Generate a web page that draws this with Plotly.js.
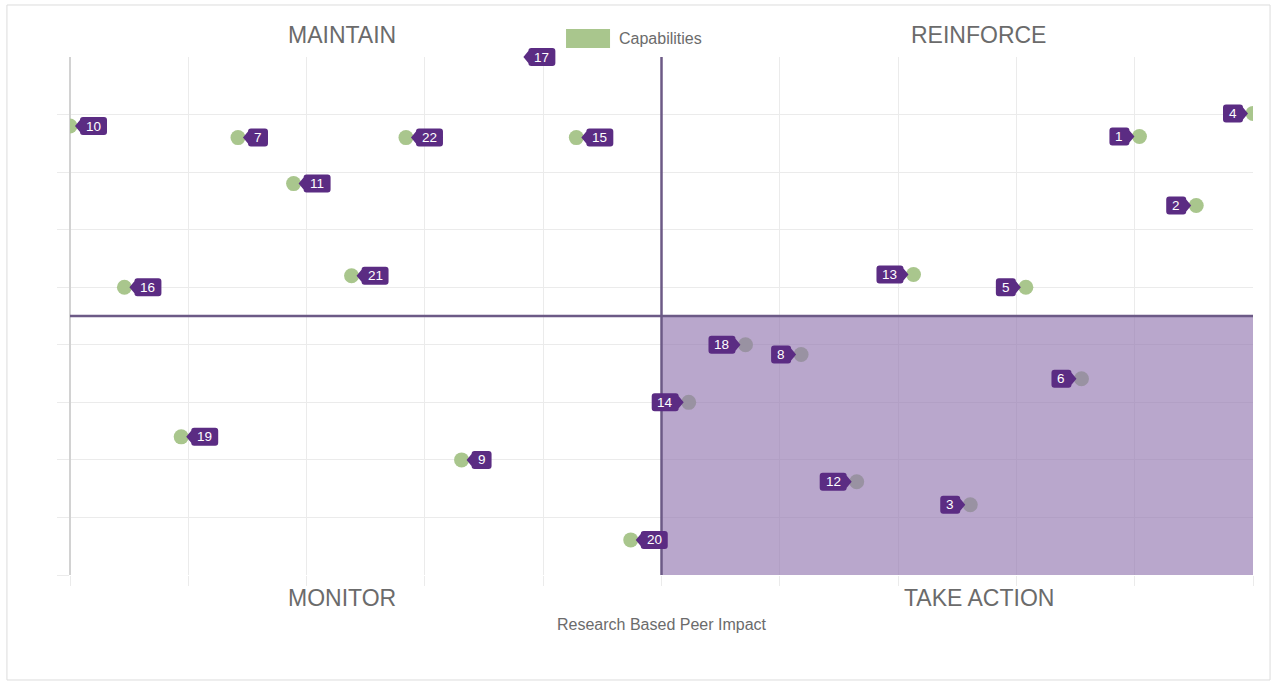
<!DOCTYPE html>
<html>
<head>
<meta charset="utf-8">
<script src="https://cdn.plot.ly/plotly-3.0.1.min.js"></script>
<style>
  html, body { margin: 0; padding: 0; background: #ffffff; }
  #chart { width: 1277px; height: 683px; }
</style>
</head>
<body>
<div id="chart"></div>
<script>
// ---- data ----
const pointLabels = ['1','2','3','4','5','6','7','8','9','10','11','12','13','14','15','16','17','18','19','20','21','22'];
const xValues = [9.04, 9.52, 7.61, 10.0, 8.08, 8.55, 1.42, 6.18, 3.31, 0.0, 1.89, 6.65, 7.13, 5.23, 4.28, 0.46, 3.79, 5.71, 0.94, 4.74, 2.38, 2.84];
const yValues = [7.62, 6.42, 1.22, 8.02, 5.0, 3.41, 7.6, 3.83, 2.0, 7.8, 6.8, 1.62, 5.22, 3.0, 7.6, 5.0, 9.4, 4.0, 2.4, 0.61, 5.2, 7.6];
const quadrantNames = ['MAINTAIN', 'REINFORCE', 'MONITOR', 'TAKE ACTION'];
const seriesName = 'Capabilities';
const xAxisTitle = 'Research Based Peer Impact';
const yTickValues = [0, 1, 2, 3, 4, 5, 6, 7, 8];

// ---- settings ----
const X_RANGE = [0, 10];
const Y_RANGE = [0, 9];
const X_SPLIT = 5;
const Y_SPLIT = 4.5;
const GREEN = '#a9c68d';
const TAG = '#5b2c83';
const DIVIDER = '#6c5a86';
const SHADE = 'rgba(144,115,174,0.63)';
const GRID = '#ebebeb';
const TEXT = '#6b6b6b';
const FONT = 'Liberation Sans, Arial, Helvetica, sans-serif';

const shapes = [];
const annotations = [];

// outer frame
shapes.push({type:'rect', xref:'paper', yref:'paper', x0:-0.0533, x1:1.0144, y0:-0.2027, y1:1.1004,
  line:{color:'#dcdcdc', width:1}, fillcolor:'rgba(0,0,0,0)', layer:'below'});

// shaded TAKE ACTION quadrant (above markers, below tags)
shapes.push({type:'rect', xref:'x', yref:'y', x0:X_SPLIT, x1:X_RANGE[1], y0:Y_RANGE[0], y1:Y_SPLIT,
  fillcolor:SHADE, line:{width:0}, layer:'above'});

// quadrant dividers
shapes.push({type:'line', xref:'x', yref:'y', x0:X_RANGE[0], x1:X_RANGE[1], y0:Y_SPLIT, y1:Y_SPLIT,
  line:{color:DIVIDER, width:2.5}, layer:'above'});
shapes.push({type:'line', xref:'x', yref:'y', x0:X_SPLIT, x1:X_SPLIT, y0:Y_RANGE[0], y1:Y_RANGE[1],
  line:{color:DIVIDER, width:2.5}, layer:'above'});

// tag callouts
function tagPath(w, dir) {
  const t = 5, b = 10, h = 9, a = 6, r = 3;
  const x0 = b * dir, x1 = (b + w) * dir;
  return `M ${t*dir},0 L ${x0},${-a} L ${x0},${-(h-r)} Q ${x0},${-h} ${x0+r*dir},${-h} ` +
         `L ${x1-r*dir},${-h} Q ${x1},${-h} ${x1},${-(h-r)} L ${x1},${h-r} Q ${x1},${h} ${x1-r*dir},${h} ` +
         `L ${x0+r*dir},${h} Q ${x0},${h} ${x0},${h-r} L ${x0},${a} Z`;
}
pointLabels.forEach((lab, i) => {
  const x = xValues[i], y = yValues[i];
  const dir = x < X_SPLIT ? 1 : -1;
  const w = lab.length > 1 ? 27 : 20;
  const clamped = y > Y_RANGE[1];
  shapes.push({
    type:'path', xref:'x', yref: clamped ? 'paper' : 'y',
    xsizemode:'pixel', ysizemode:'pixel',
    xanchor:x, yanchor: clamped ? 1 : y,
    path: tagPath(w, dir), fillcolor:TAG, line:{width:0}, layer:'above'
  });
  annotations.push({
    x:x, y: Math.min(y, Y_RANGE[1]), xref:'x', yref:'y', text:lab, showarrow:false,
    xanchor:'center', yanchor:'middle', xshift: dir * (10 + w / 2), yshift: 0,
    font:{family:FONT, size:13.5, color:'#ffffff'}
  });
});

// quadrant labels
const qPos = [[0.23, 1.0425], [0.768, 1.0425], [0.23, -0.0444], [0.768, -0.0444]];
quadrantNames.forEach((q, i) => {
  annotations.push({xref:'paper', yref:'paper', x:qPos[i][0], y:qPos[i][1], text:q, showarrow:false,
    xanchor:'center', yanchor:'middle', font:{family:FONT, size:23, color:TEXT}});
});

// legend (box + text)
shapes.push({type:'rect', xref:'paper', yref:'paper', x0:0.4193, x1:0.4565, y0:1.0174, y1:1.054,
  fillcolor:GREEN, line:{width:0}});
annotations.push({xref:'paper', yref:'paper', x:0.4624, y:1.0357, text:seriesName, showarrow:false,
  xanchor:'left', yanchor:'middle', font:{family:FONT, size:16, color:TEXT}});

const trace = {
  type:'scatter', mode:'markers', name:seriesName,
  x:xValues, y:yValues, text:pointLabels,
  marker:{size:15, color:GREEN},
  cliponaxis:true, showlegend:false,
  hovertemplate:'%{text}: (%{x}, %{y})<extra></extra>'
};

const layout = {
  width:1277, height:683,
  margin:{l:70, r:24, t:57, b:108},
  paper_bgcolor:'#ffffff', plot_bgcolor:'#ffffff',
  font:{family:FONT, color:TEXT},
  showlegend:false,
  xaxis:{
    range:X_RANGE, dtick:1, tick0:0, showticklabels:false,
    ticks:'outside', ticklen:10, tickcolor:GRID, tickwidth:1,
    showgrid:true, gridcolor:GRID, gridwidth:1,
    zeroline:true, zerolinecolor:'#d2d2d2', zerolinewidth:2,
    showline:false, fixedrange:true,
    title:{text:xAxisTitle, font:{family:FONT, size:16, color:TEXT}, standoff:33}
  },
  yaxis:{
    range:Y_RANGE, tickmode:'array', tickvals:yTickValues, showticklabels:false,
    ticks:'outside', ticklen:12, tickcolor:GRID, tickwidth:1,
    showgrid:true, gridcolor:GRID, gridwidth:1,
    zeroline:false, showline:false, fixedrange:true
  },
  shapes:shapes,
  annotations:annotations
};

Plotly.newPlot('chart', [trace], layout, {displayModeBar:false, staticPlot:true});
</script>
</body>
</html>
